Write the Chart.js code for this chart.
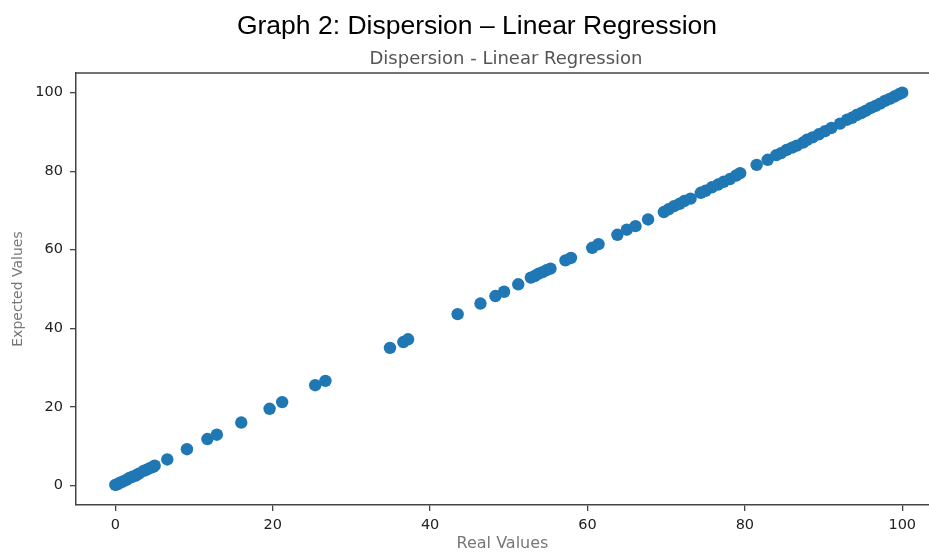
<!DOCTYPE html>
<html>
<head>
<meta charset="utf-8">
<script src="https://cdn.jsdelivr.net/npm/chart.js@4.4.0/dist/chart.umd.min.js"></script>
<style>
  body { margin: 0; background: #fff; }
  #wrap { position: relative; width: 929px; height: 553px; overflow: hidden; }
  canvas { position: absolute; left: 0; top: 0; }
  .title { position: absolute; white-space: nowrap; transform: translateX(-50%); line-height: 1; }
  #mainTitle { left: 477px; top: 10px; font: 26.5px "Liberation Sans", Arial, sans-serif; color: #000; }
  #subTitle { left: 506px; top: 47px; font: 18px "DejaVu Sans", sans-serif; color: #555; }
</style>
</head>
<body>
<div id="wrap">
  <canvas id="scatterChart" width="929" height="553"></canvas>
  <div class="title" id="mainTitle">Graph 2: Dispersion – Linear Regression</div>
  <div class="title" id="subTitle">Dispersion - Linear Regression</div>
</div>
<script>
// values
const realValues = [
  0, 0.3, 0.6, 1.0, 1.4, 1.8, 2.2, 2.6, 3.0, 3.6, 4.0, 4.4, 4.8, 5.0,
  6.6, 9.1, 11.7, 12.9, 16.0, 19.6, 21.2, 25.4, 26.7,
  34.9, 36.6, 37.2, 43.5, 46.4, 48.3, 49.4, 51.2,
  52.8, 53.3, 53.8, 54.3, 54.8, 55.3, 57.2, 57.9, 60.6, 61.4,
  63.8, 65.0, 66.1, 67.7, 69.7, 70.3, 71.0, 71.7, 72.3, 73.1,
  74.4, 75.0, 75.8, 76.6, 77.3, 78.1, 78.9, 79.4, 81.5, 82.9,
  84.0, 84.6, 85.3, 86.0, 86.6, 87.4, 87.9, 88.6, 89.4, 90.2, 91.0, 92.1,
  93.0, 93.6, 94.2, 94.8, 95.4, 96.0, 96.6, 97.2, 97.8, 98.4, 99.0, 99.6, 100.0
]
const expectedValues = [
  0.1, 0.3, 0.7, 1.0, 1.4, 1.9, 2.2, 2.5, 3.0, 3.7, 4.0, 4.4, 4.7, 5.0,
  6.6, 9.2, 11.8, 12.9, 16.0, 19.5, 21.2, 25.5, 26.6,
  35.0, 36.5, 37.2, 43.6, 46.3, 48.2, 49.3, 51.2,
  52.9, 53.3, 53.9, 54.3, 54.8, 55.2, 57.3, 57.9, 60.5, 61.4,
  63.8, 65.1, 66.0, 67.7, 69.6, 70.3, 71.1, 71.7, 72.4, 73.0,
  74.5, 75.0, 75.9, 76.6, 77.3, 78.0, 78.9, 79.5, 81.6, 82.9,
  84.1, 84.6, 85.4, 86.0, 86.5, 87.3, 88.0, 88.6, 89.4, 90.2, 91.0, 92.1,
  93.1, 93.6, 94.3, 94.8, 95.4, 96.1, 96.6, 97.2, 97.9, 98.4, 99.0, 99.6, 100.0
]
const xTicks = [0, 20, 40, 60, 80, 100]
const yTicks = [0, 20, 40, 60, 80, 100]

const axisColor = '#444'
const tickFont = { family: 'DejaVu Sans', size: 14.5 }

// matplotlib style top spine
const topBorder = {
  id: 'topBorder',
  afterDraw(chart) {
    const { ctx, chartArea } = chart
    ctx.save()
    ctx.strokeStyle = axisColor
    ctx.lineWidth = 1.5
    ctx.beginPath()
    ctx.moveTo(chartArea.left, chartArea.top)
    ctx.lineTo(chartArea.right, chartArea.top)
    ctx.stroke()
    ctx.restore()
  }
}

const ctx = document.getElementById('scatterChart').getContext('2d')
new Chart(ctx, {
  type: 'scatter',
  data: {
    datasets: [{
      label: 'Dispersion',
      data: realValues.map((x, i) => ({ x: x, y: expectedValues[i] })),
      backgroundColor: '#1f77b4',
      borderWidth: 0,
      pointRadius: 6.2,
      pointHoverRadius: 6.2
    }]
  },
  plugins: [topBorder],
  options: {
    responsive: false,
    animation: false,
    layout: {
      autoPadding: false,
      padding: { top: 73, left: 0, right: 0, bottom: 0 }
    },
    plugins: {
      legend: { display: false },
      tooltip: { enabled: false }
    },
    scales: {
      x: {
        type: 'linear',
        min: -5,
        max: 103.4,
        afterBuildTicks: s => { s.ticks = xTicks.map(v => ({ value: v })) },
        afterFit: s => { s.height = 48 },
        grid: { drawOnChartArea: false, tickLength: 6, color: axisColor, lineWidth: 1.3 },
        border: { color: axisColor, width: 1.5 },
        ticks: { color: '#222', font: tickFont, padding: 6, maxRotation: 0, autoSkip: false },
        title: {
          display: true,
          text: 'Real Values',
          color: '#777',
          font: { family: 'DejaVu Sans', size: 16 },
          padding: { top: 0, bottom: 0 }
        }
      },
      y: {
        type: 'linear',
        min: -5,
        max: 105,
        afterBuildTicks: s => { s.ticks = yTicks.map(v => ({ value: v })) },
        afterFit: s => { s.width = 76 },
        grid: { drawOnChartArea: false, tickLength: 6, color: axisColor, lineWidth: 1.3 },
        border: { color: axisColor, width: 1.5 },
        ticks: { color: '#222', font: tickFont, padding: 7, autoSkip: false },
        title: {
          display: true,
          text: 'Expected Values',
          color: '#777',
          font: { family: 'DejaVu Sans', size: 14 },
          padding: { top: 10, bottom: 0 }
        }
      }
    }
  }
})
</script>
</body>
</html>
